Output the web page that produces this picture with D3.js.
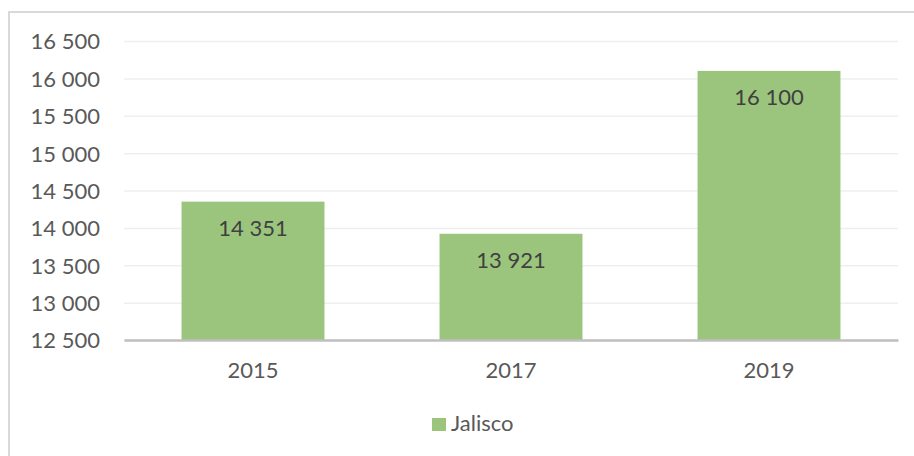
<!DOCTYPE html>
<html lang="es">
<head>
  <meta charset="utf-8">
  <title>Jalisco</title>
  <script src="https://d3js.org/d3.v7.min.js"></script>
  <style>
    body { margin: 0; background: #fff; }
    text { font-family: Lato, "Open Sans", sans-serif; }
  </style>
</head>
<body>
<script>
  // data
  var years = ["2015", "2017", "2019"];
  var jalisco = [14351, 13921, 16100];
  var yTicks = [12500, 13000, 13500, 14000, 14500, 15000, 15500, 16000, 16500];
  var seriesName = "Jalisco";

  var w = 914, h = 456;
  var plotL = 124, plotR = 898, plotT = 41, plotB = 340;
  var green = "#9bc57c";
  var fs = 22;

  var fmt = function(v) { return d3.format(",")(v).replace(/,/g, " "); };

  var svg = d3.select("body").append("svg")
    .attr("width", w)
    .attr("height", h);

  // chart frame (only top and left show in the crop)
  svg.append("path")
    .attr("d", "M9,460 V12 H920")
    .attr("fill", "none")
    .attr("stroke", "#d9d9d9")
    .attr("stroke-width", 2);

  var x = d3.scaleBand()
    .domain(years)
    .range([plotL, plotR])
    .paddingInner(0.446)
    .paddingOuter(0.223);

  var y = d3.scaleLinear()
    .domain([12500, 16500])
    .range([plotB, plotT]);

  // gridlines + y labels
  var yAxis = d3.axisLeft(y)
    .tickValues(yTicks)
    .tickSize(-(plotR - plotL))
    .tickPadding(24)
    .tickFormat(fmt);

  var gy = svg.append("g")
    .attr("transform", "translate(" + plotL + ",0)")
    .call(yAxis);
  gy.select(".domain").remove();
  gy.selectAll(".tick line")
    .attr("stroke", "#efefef")
    .attr("stroke-width", 1.5);
  gy.selectAll(".tick text")
    .attr("fill", "#595959")
    .attr("font-size", fs)
    .attr("dy", "0.36em");

  // bars
  svg.selectAll("rect.bar")
    .data(jalisco)
    .enter()
    .append("rect")
    .attr("class", "bar")
    .attr("x", function(d, i) { return x(years[i]); })
    .attr("y", function(d) { return y(d); })
    .attr("width", x.bandwidth())
    .attr("height", function(d) { return plotB - y(d); })
    .attr("fill", green);

  // value labels, inside end
  svg.selectAll("text.val")
    .data(jalisco)
    .enter()
    .append("text")
    .attr("class", "val")
    .attr("x", function(d, i) { return x(years[i]) + x.bandwidth() / 2; })
    .attr("y", function(d) { return y(d) + 34; })
    .attr("text-anchor", "middle")
    .attr("font-size", fs)
    .attr("fill", "#404040")
    .text(fmt);

  // x axis
  var xAxis = d3.axisBottom(x).tickSize(0).tickPadding(22);
  var gx = svg.append("g")
    .attr("transform", "translate(0," + plotB + ")")
    .call(xAxis);
  gx.select(".domain")
    .attr("stroke", "#bfbfbf")
    .attr("stroke-width", 2.5);
  gx.selectAll(".tick text")
    .attr("fill", "#595959")
    .attr("font-size", fs);

  // legend
  var lg = svg.append("g").attr("transform", "translate(432,418)");
  lg.append("rect")
    .attr("width", 14)
    .attr("height", 13)
    .attr("fill", green);
  lg.append("text")
    .attr("x", 19)
    .attr("y", 13)
    .attr("font-size", fs)
    .attr("fill", "#595959")
    .text(seriesName);
</script>
</body>
</html>
